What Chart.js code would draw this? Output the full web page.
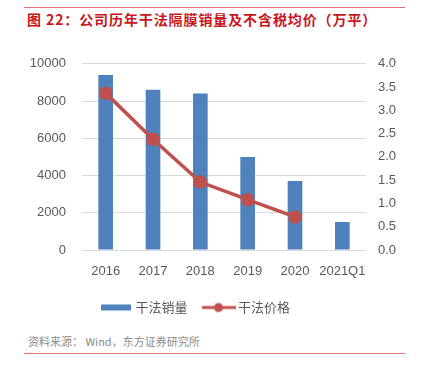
<!DOCTYPE html>
<html>
<head>
<meta charset="utf-8">
<script src="https://cdn.jsdelivr.net/npm/chart.js@4"></script>
<style>
  body { margin: 0; background: #fff; width: 421px; height: 376px; position: relative; overflow: hidden; }
  .rule { position: absolute; left: 24px; width: 381px; height: 1px; background: #e57373; }
  #title { position: absolute; left: 27px; top: 9px; font: bold 14px "Noto Sans CJK SC", sans-serif; color: #c8161d; white-space: nowrap; letter-spacing: 0.9px; }
  #source { position: absolute; left: 28px; top: 333px; font: 11px "Noto Sans CJK SC", sans-serif; color: #8c8c8c; white-space: nowrap; }
  #wrap { position: absolute; left: 0; top: 40px; width: 421px; height: 284px; }
</style>
</head>
<body>
<div class="rule" style="top:7px"></div>
<div id="title">图 22：公司历年干法隔膜销量及不含税均价（万平）</div>
<div id="wrap"><canvas id="chart"></canvas></div>
<div id="source">资料来源： Wind，东方证券研究所</div>
<div class="rule" style="top:353px"></div>
<script>
const years = ["2016", "2017", "2018", "2019", "2020", "2021Q1"];
const volume = [9400, 8600, 8400, 5000, 3700, 1500];
const price = [3.37, 2.38, 1.46, 1.08, 0.71, null];

const blue = "#4f81bd";
const red = "#c0504d";
const grey = "#595959";
const tickFont = { size: 13, family: "'Liberation Sans', Arial" };

// little legend icons: wide bar and line-with-dot
function icon(kind) {
  const c = document.createElement("canvas");
  c.width = 34; c.height = 12;
  const g = c.getContext("2d");
  if (kind === "bar") {
    g.fillStyle = blue;
    g.fillRect(2, 3, 30, 6);
  } else {
    g.strokeStyle = red; g.lineWidth = 3;
    g.beginPath(); g.moveTo(0, 6); g.lineTo(34, 6); g.stroke();
    g.fillStyle = red;
    g.beginPath(); g.arc(17, 6, 4.5, 0, Math.PI * 2); g.fill();
  }
  return c;
}
const icons = [icon("bar"), icon("line")];

// legend in the original sits a bit left of the page centre
const nudgeLegend = {
  id: "nudgeLegend",
  afterLayout(chart) {
    chart.legend.left -= 14;
    chart.legend.right -= 14;
  },
};

new Chart(document.getElementById("chart"), {
  data: {
    labels: years,
    datasets: [
      {
        type: "line",
        label: "干法价格",
        data: price,
        yAxisID: "y1",
        borderColor: red,
        backgroundColor: red,
        borderWidth: 3.5,
        pointRadius: 5,
        pointHoverRadius: 5,
        order: 0,
      },
      {
        type: "bar",
        label: "干法销量",
        data: volume,
        yAxisID: "y",
        backgroundColor: blue,
        barPercentage: 0.31,
        categoryPercentage: 1,
        order: 1,
      },
    ],
  },
  options: {
    responsive: true,
    maintainAspectRatio: false,
    animation: false,
    layout: { padding: { top: 2, left: 0, right: 0, bottom: 0 } },
    plugins: {
      tooltip: { enabled: false },
      legend: {
        position: "bottom",
        labels: {
          color: grey,
          font: { size: 13, family: "'Noto Sans CJK SC', sans-serif" },
          usePointStyle: true,
          pointStyleWidth: 26,
          boxHeight: 12,
          padding: 18,
          generateLabels(chart) {
            return [1, 0].map((i, k) => ({
              text: chart.data.datasets[i].label,
              datasetIndex: i,
              pointStyle: icons[k],
              fontColor: grey,
              lineWidth: 0,
              hidden: false,
            }));
          },
        },
      },
    },
    scales: {
      x: {
        grid: { display: false },
        border: { display: false },
        ticks: { color: grey, font: tickFont, padding: 6, maxRotation: 0, autoSkip: false },
        afterFit(s) { s.height = 33; },
      },
      y: {
        position: "left",
        min: 0, max: 10000,
        ticks: { stepSize: 2000, color: grey, font: tickFont, padding: 16, callback: v => String(v) },
        grid: { color: "#d9d9d9", drawTicks: false },
        border: { display: false },
        afterFit(s) { s.width = 82; },
      },
      y1: {
        position: "right",
        min: 0, max: 4,
        ticks: { stepSize: 0.5, color: grey, font: tickFont, padding: 12, callback: v => v.toFixed(1) },
        grid: { display: false, drawTicks: false },
        border: { display: false },
        afterFit(s) { s.width = 55; },
      },
    },
  },
  plugins: [nudgeLegend],
});
</script>
</body>
</html>
